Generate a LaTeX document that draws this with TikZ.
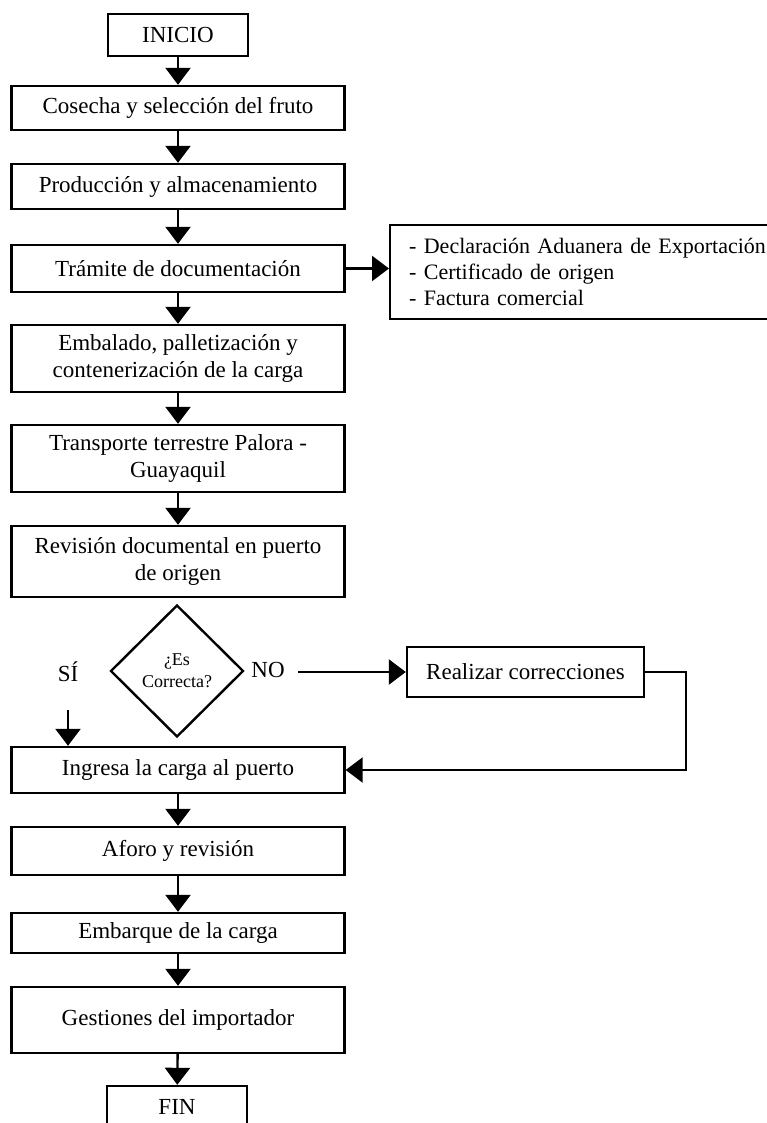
\documentclass[tikz,border=0pt]{standalone}
\usepackage{fontspec}
\setmainfont{Liberation Serif}
\usetikzlibrary{arrows.meta,shapes.geometric}

\begin{document}
\begin{tikzpicture}[x=1pt,y=-1pt,
	caja/.style={draw,line width=2.4pt,minimum width=333pt,inner sep=0pt,align=center,font=\fontsize{23}{26.5}\selectfont},
	rombo/.style={draw,diamond,aspect=1,line width=2.4pt,minimum width=133pt,minimum height=132pt,inner sep=0pt,align=center,font=\fontsize{18}{22}\selectfont},
	etiqueta/.style={inner sep=0pt,font=\fontsize{23}{26}\selectfont},
	flecha/.style={-{Triangle[width=25pt,length=17pt]},line width=2.4pt}]
	\useasboundingbox (0,0) rectangle (767,1123);
	
	\node[caja,minimum width=140pt,minimum height=42pt] (inicio) at (178,35) {INICIO};
	\node[caja,minimum height=44pt] (cosecha) at (178,108) {Cosecha y selección del fruto};
	\node[caja,minimum height=45pt] (produccion) at (178,186.5) {Producción y almacenamiento};
	\node[caja,minimum height=47pt] (tramite) at (178,268.5) {Trámite de documentación};
	\node[caja,anchor=west,minimum width=0pt,minimum height=94pt,text width=385pt,align=left,inner xsep=19pt,font=\fontsize{22}{26}\selectfont] (docs) at (389,272)
		{- Declaración Aduanera de Exportación\\- Certificado de origen\\- Factura comercial};
	\node[caja,minimum height=67pt] (embalado) at (178,358.5) {Embalado, palletización y\\contenerización de la carga};
	\node[caja,minimum height=67pt] (transporte) at (178,458.5) {Transporte terrestre Palora -\\Guayaquil};
	\node[caja,minimum height=71pt] (revision) at (178,561.5) {Revisión documental en puerto\\de origen};
	
	%decision
	\node[rombo] (decision) at (177,671) {¿Es\\Correcta?};
	\node[etiqueta] (si) at (68,672) {SÍ};
	\node[etiqueta] (no) at (268,670) {NO};
	\node[caja,minimum width=237pt,minimum height=50pt] (realizar) at (525.5,672) {Realizar correcciones};
	\coordinate (sitop) at (68,710);
	\coordinate (notail) at (298,672);
	
	\node[caja,minimum height=46pt] (ingresa) at (178,770) {Ingresa la carga al puerto};
	\node[caja,minimum height=48pt] (aforo) at (178,851) {Aforo y revisión};
	\node[caja,minimum height=40pt] (embarque) at (178,933) {Embarque de la carga};
	\node[caja,minimum height=66pt] (gestiones) at (178,1020) {Gestiones del importador};
	\node[caja,minimum width=140pt,minimum height=42pt] (fin) at (177,1107) {FIN};
	
	%flechas
	\draw[flecha] (inicio) -- (cosecha);
	\draw[flecha] (cosecha) -- (produccion);
	\draw[flecha] (produccion) -- (tramite);
	\draw[flecha] (tramite.east) -- (docs.west |- tramite.east);
	\draw[flecha] (tramite) -- (embalado);
	\draw[flecha] (embalado) -- (transporte);
	\draw[flecha] (transporte) -- (revision);
	\draw[flecha] (sitop) -- (sitop |- ingresa.north);
	\draw[flecha] (notail) -- (realizar.west);
	\draw[flecha] (realizar.east) -- ++(41,0) |- (ingresa.east);
	\draw[flecha] (ingresa) -- (aforo);
	\draw[flecha] (aforo) -- (embarque);
	\draw[flecha] (embarque) -- (gestiones);
	\draw[flecha] (gestiones) -- (fin);
\end{tikzpicture}
\end{document}
